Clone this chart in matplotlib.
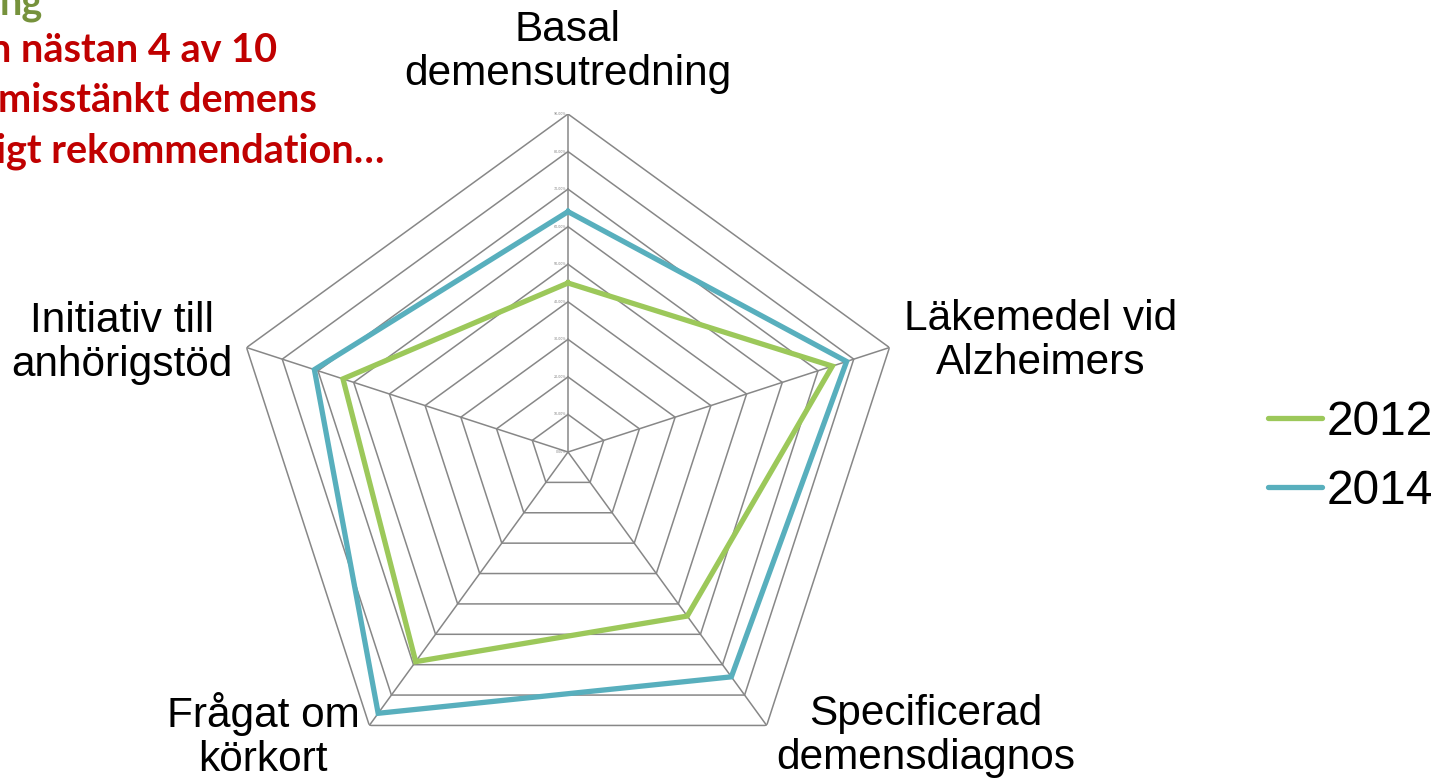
import numpy as np
import matplotlib
matplotlib.use("Agg")
import matplotlib.pyplot as plt
from matplotlib.lines import Line2D

# Categories (clockwise from the top) and yearly shares in percent
categories = [
    "Basal\ndemensutredning",
    "Läkemedel vid\nAlzheimers",
    "Specificerad\ndemensdiagnos",
    "Frågat om\nkörkort",
    "Initiativ till\nanhörigstöd",
]
series_names = ["2012", "2014"]
values_2012 = [45, 74, 54, 69, 63]
values_2014 = [64, 78, 74, 86, 71]
levels = [0, 10, 20, 30, 40, 50, 60, 70, 80, 90]
level_labels = ["0,00%", "10,00%", "20,00%", "30,00%", "40,00%",
                "50,00%", "60,00%", "70,00%", "80,00%", "90,00%"]

colors = {"2012": "#9CC85A", "2014": "#58AFBD"}
grid_color = "#878787"

W, H = 1444, 784
fig = plt.figure(figsize=(W / 100, H / 100), dpi=100)

# Polar axes: centre (568, 452) px, outer ring radius 338 px
cx, cy, R = 568, 452, 338
ax = fig.add_axes([(cx - R) / W, (H - cy - R) / H, 2 * R / W, 2 * R / H],
                  projection="polar")
ax.set_theta_offset(np.pi / 2)
ax.set_theta_direction(-1)
ax.set_ylim(0, levels[-1])
ax.grid(False)
ax.spines["polar"].set_visible(False)
ax.set_xticks([])
ax.set_yticks([])
ax.patch.set_alpha(0)

n = len(categories)
angles = np.linspace(0, 2 * np.pi, n, endpoint=False)
closed = np.append(angles, angles[0])

# Pentagon grid rings and spokes (straight segments)
for lv in levels[1:]:
    ax.plot(closed, [lv] * (n + 1), color=grid_color, lw=1.1, zorder=1,
            solid_joinstyle="miter")
for a in angles:
    ax.plot([a, a], [0, levels[-1]], color=grid_color, lw=1.1, zorder=1)

# Tiny radial value labels along the top spoke
for lv, lab in zip(levels, level_labels):
    ax.annotate(lab, xy=(0, lv), xytext=(-1.5, 0), textcoords="offset points",
                ha="right", va="center", fontsize=2.3, color="#808080")

# Data series
for name, vals in zip(series_names, [values_2012, values_2014]):
    ax.plot(closed, list(vals) + [vals[0]], color=colors[name], lw=3.8,
            solid_joinstyle="miter", zorder=3, label=name)

# Category labels around the chart
label_pos = [(568, 52), (1041, 341), (926, 736), (263, 736), (122, 343)]
for text, (x, y) in zip(categories, label_pos):
    fig.text(x / W, 1 - y / H, text, ha="center", va="center",
             fontsize=30.5, family="Liberation Sans", linespacing=1.12)

# Legend
handles = [Line2D([], [], color=colors[s], lw=3.8, solid_capstyle="round")
           for s in series_names]
leg = fig.legend(handles, series_names, loc="center left",
                 bbox_to_anchor=(1268 / W, 1 - 457 / H), frameon=False,
                 prop={"family": "Liberation Sans", "size": 34.5},
                 handlelength=1.12, handletextpad=0.1, labelspacing=0.5,
                 borderpad=0, borderaxespad=0)

# Headline text at the top-left corner
head = [("ng", 43, 15, "#76923C"),
        ("n nästan 4 av 10", 277, 62, "#C00000"),
        ("misstänkt demens", 317, 112, "#C00000"),
        ("igt rekommendation…", 385, 163, "#C00000")]
for txt, xr, yb, col in head:
    fig.text(xr / W, 1 - yb / H, txt, ha="right", va="baseline",
             fontsize=28.5, family="Lato", weight="bold", color=col)

fig.savefig("out.png", dpi=100)
